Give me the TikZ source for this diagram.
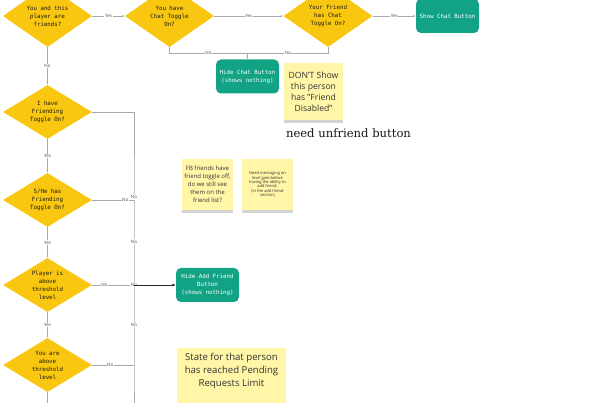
\documentclass[tikz,border=0pt]{standalone}
\usepackage{fontspec}
\setmainfont{Open Sans}
\setmonofont{DejaVu Sans Mono}
\newfontfamily\slabfont{DejaVu Serif}
\usepackage{xcolor}
\usepackage{tikz}
\usetikzlibrary{arrows}
\usetikzlibrary{arrows.meta}
\usetikzlibrary{shapes.geometric}
\usetikzlibrary{shadows}

\definecolor{gold}{HTML}{FAC710}
\definecolor{teal}{HTML}{12A385}
\definecolor{noteyellow}{HTML}{FFF6A8}
\definecolor{linegray}{HTML}{A8A8A8}

\begin{document}
\begin{tikzpicture}[
        x=1pt, y=-1pt,
        decision/.style={diamond, fill=gold, inner sep=0pt, shape aspect=1.65,
            minimum width=89pt, minimum height=54pt, align=center,
            text=black!90, font=\ttfamily\fontsize{5.8}{8}\selectfont},
        bigdecision/.style={decision, minimum height=62pt, shape aspect=1.44},
        action/.style={rectangle, rounded corners=5pt, fill=teal, text=white,
            minimum width=63pt, minimum height=34pt, align=center, inner sep=1pt,
            font=\ttfamily\fontsize{5.8}{8}\selectfont},
        sticky/.style={rectangle, fill=noteyellow, align=center, inner sep=1pt,
            text=black!80,
            drop shadow={shadow xshift=0pt, shadow yshift=-3pt, opacity=0.35}},
        lbl/.style={fill=white, inner sep=0.6pt, text=black!70,
            font=\fontsize{4.5}{5}\selectfont},
        line/.style={draw=linegray, line width=0.5pt},
        flow/.style={line, -{Latex[length=2.5pt, width=2pt]}},
        busflow/.style={draw=black!85, line width=0.8pt, -{Latex[length=3.5pt, width=3pt]}}
    ]

    \useasboundingbox (0,0) rectangle (600,403);
    \clip (0,0) rectangle (600,403);

    % -- Position des noeuds --
    \node[bigdecision] (d1) at (47.5,16)  {You and this\\player are\\friends?};
    \node[bigdecision] (d2) at (169.5,16) {You have\\Chat Toggle\\On?};
    \node[bigdecision] (d3) at (328,16)   {Your Friend\\has Chat\\Toggle On?};
    \node[action] (show) at (447.5,16)    {Show Chat Button};
    \node[action] (hidechat) at (247.5,76.5) {Hide Chat Button\\(shows nothing)};

    \node[decision] (d4) at (47.5,112) {I have\\Friending\\Toggle On?};
    \node[decision] (d5) at (47.5,200) {S/He has\\Friending\\Toggle On?};
    \node[decision] (d6) at (47.5,285) {Player is\\above\\threshold\\level};
    \node[decision] (d7) at (47.5,365) {You are\\above\\threshold\\level};
    \node[action] (hideadd) at (207.5,285) {Hide Add Friend\\Button\\(shows nothing)};

    % -- Points de jonction --
    \coordinate (jc) at (247.5,53);
    \coordinate (b4) at (134,112);
    \coordinate (b5) at (134,200);
    \coordinate (b6) at (134,285);
    \coordinate (b7) at (134,365);
    \coordinate (bend) at (134,420);
    \coordinate (d7end) at (47.5,420);

    % -- Post-it --
    \node[sticky, minimum width=59pt, minimum height=57pt,
        font=\fontsize{8.6}{11}\selectfont] (dont) at (313.5,91.5)
        {DON'T Show\\this person\\has "Friend\\Disabled"};
    \node[font=\slabfont\fontsize{11.6}{13}\selectfont, text=black!90,
        inner sep=0pt] (unfriend) at (348.5,133) {need unfriend button};
    \node[sticky, minimum width=51pt, minimum height=51pt,
        font=\fontsize{6}{8}\selectfont] (fb) at (207.5,184.5)
        {FB friends have\\friend toggle off,\\do we still see\\them on the\\friend list?};
    \node[sticky, minimum width=51pt, minimum height=51pt,
        font=\fontsize{4}{4.3}\selectfont] (need) at (267.5,184.5)
        {Need messaging on\\level gate before\\having the ability to\\add friend.\\(in the add friend\\section)};
    \node[sticky, minimum width=109pt, minimum height=70pt,
        font=\fontsize{9.6}{13}\selectfont] (state) at (231.5,383)
        {State for that person\\has reached Pending\\Requests Limit\\[14pt]};

    % -- Position des arcs --
    % d1 -> d2 :
    \draw[flow] (d1.east) -- node[lbl] {Yes} (d2.west);

    % d2 -> d3 :
    \draw[flow] (d2.east) -- node[lbl] {Yes} (d3.west);

    % d3 -> show :
    \draw[flow] (d3.east) -- node[lbl] {Yes} (show.west);

    % d2 -> hidechat, d3 -> hidechat :
    \draw[line] (d2.south) |- node[lbl, pos=0.75] {No} (jc);
    \draw[line] (d3.south) |- node[lbl, pos=0.75] {No} (jc);
    \draw[flow] (jc) -- (hidechat.north);

    % d1 -> d4 :
    \draw[flow] (d1.south) -- node[lbl] {No} (d4.north);

    % d4 -> d5 -> d6 -> d7 :
    \draw[flow] (d4.south) -- node[lbl] {Yes} (d5.north);
    \draw[flow] (d5.south) -- node[lbl] {Yes} (d6.north);
    \draw[flow] (d6.south) -- node[lbl] {Yes} (d7.north);
    \draw[flow] (d7.south) -- (d7end);

    % -- Bus des "No" --
    \draw[line] (d4.east) -- (b4);
    \draw[line] (d5.east) -- node[lbl, pos=0.79] {No} (b5);
    \draw[line] (d6.east) -- node[lbl, pos=0.29] {No} (b6);
    \draw[line] (d7.east) -- node[lbl, pos=0.43] {No} (b7);
    \draw[line] (b4) -- node[lbl, pos=0.97] {No} (b5)
        -- node[lbl, pos=0.49] {No} (b6)
        -- node[lbl, pos=0.5] {No} (b7) -- (bend);

    % b6 -> hideadd :
    \node[lbl] (nob6) at (b6) {No};
    \draw[busflow] (b6) -- (hideadd.west);

    \end{tikzpicture}
\end{document}
